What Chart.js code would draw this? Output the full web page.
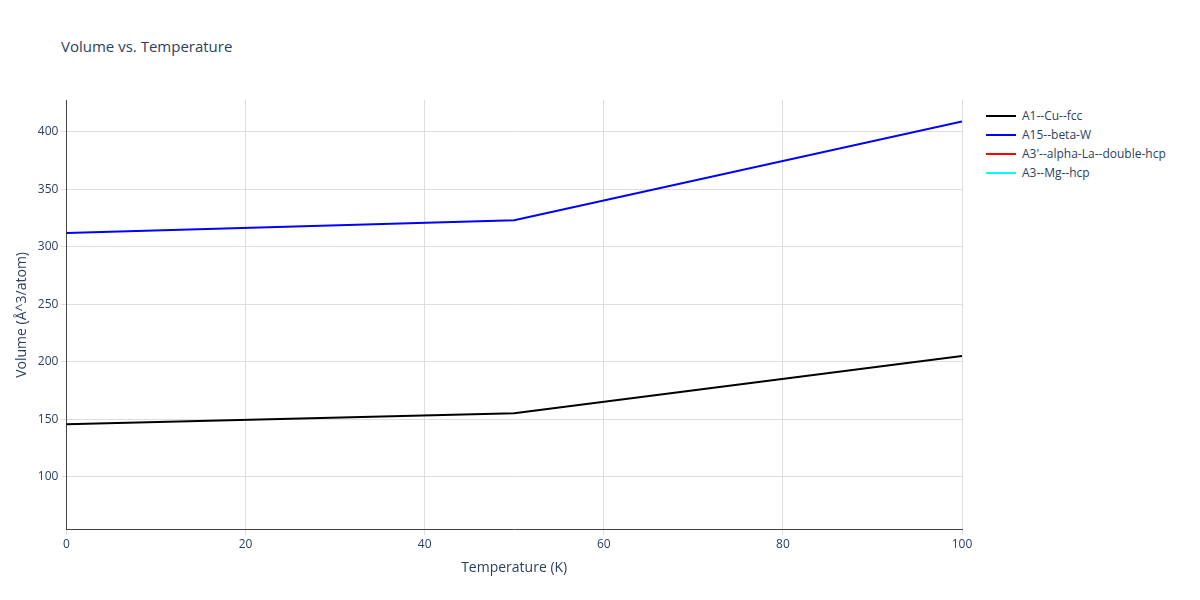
<!DOCTYPE html>
<html>
<head>
<meta charset="utf-8">
<script src="https://cdn.jsdelivr.net/npm/chart.js@4"></script>
<style>
  body { margin: 0; background: #fff; }
  #wrap { position: relative; width: 1200px; height: 600px; }
  #title { position: absolute; left: 61px; top: 36px; font: 15px "Open Sans", sans-serif; color: #2a3f5f; }
  #legend { position: absolute; left: 986px; top: 106px; font: 12px "Open Sans", sans-serif; color: #2a3f5f; }
  #legend div { height: 19px; display: flex; align-items: center; }
  #legend span.l { display: inline-block; width: 30px; height: 2px; margin-right: 6px; }
  canvas { position: absolute; left: 0; top: 0; }
</style>
</head>
<body>
<div id="wrap">
  <div id="title">Volume vs. Temperature</div>
  <div id="legend"></div>
  <canvas id="c" width="1200" height="600"></canvas>
</div>
<script>
const temps = [0, 50, 100];
const names = ["A1--Cu--fcc", "A15--beta-W", "A3'--alpha-La--double-hcp", "A3--Mg--hcp"];
const colors = ["#000000", "#0000ff", "#ff0000", "#00ffff"];
const cuVol = [145.5, 155, 205];
const betaWVol = [312, 323, 409];
const alphaLaVol = [];
const mgVol = [];
const series = [cuVol, betaWVol, alphaLaVol, mgVol];

const legend = document.getElementById("legend");
names.forEach((n, i) => {
  const d = document.createElement("div");
  d.innerHTML = '<span class="l" style="background:' + colors[i] + '"></span>' + n;
  legend.appendChild(d);
});

const datasets = names.map((n, i) => ({
  label: n,
  data: series[i].map((v, j) => ({ x: temps[j], y: v })),
  borderColor: colors[i],
  backgroundColor: colors[i],
  borderWidth: 2,
  pointRadius: 0,
  tension: 0,
}));

const font = { family: "Open Sans", size: 12 };
new Chart(document.getElementById("c"), {
  type: "line",
  data: { datasets },
  options: {
    responsive: false,
    animation: false,
    layout: { padding: { left: 10, top: 100, right: 238, bottom: 20 } },
    plugins: { legend: { display: false }, tooltip: { enabled: false } },
    scales: {
      x: {
        type: "linear", min: 0, max: 100,
        ticks: { stepSize: 20, color: "#2a3f5f", font },
        grid: { color: "#dddddd", drawTicks: true, tickLength: 5 },
        border: { color: "#444", width: 1 },
        title: { display: true, text: "Temperature (K)", color: "#2a3f5f", font: { family: "Open Sans", size: 14 } },
      },
      y: {
        min: 53.7, max: 427.6,
        afterBuildTicks: (axis) => { axis.ticks = [100, 150, 200, 250, 300, 350, 400].map(v => ({ value: v })); },
        ticks: { color: "#2a3f5f", font },
        grid: { color: "#dddddd", tickLength: 5 },
        border: { color: "#444", width: 1 },
        title: { display: true, text: "Volume (Å^3/atom)", color: "#2a3f5f", font: { family: "Open Sans", size: 14 } },
      },
    },
  },
});
</script>
</body>
</html>
